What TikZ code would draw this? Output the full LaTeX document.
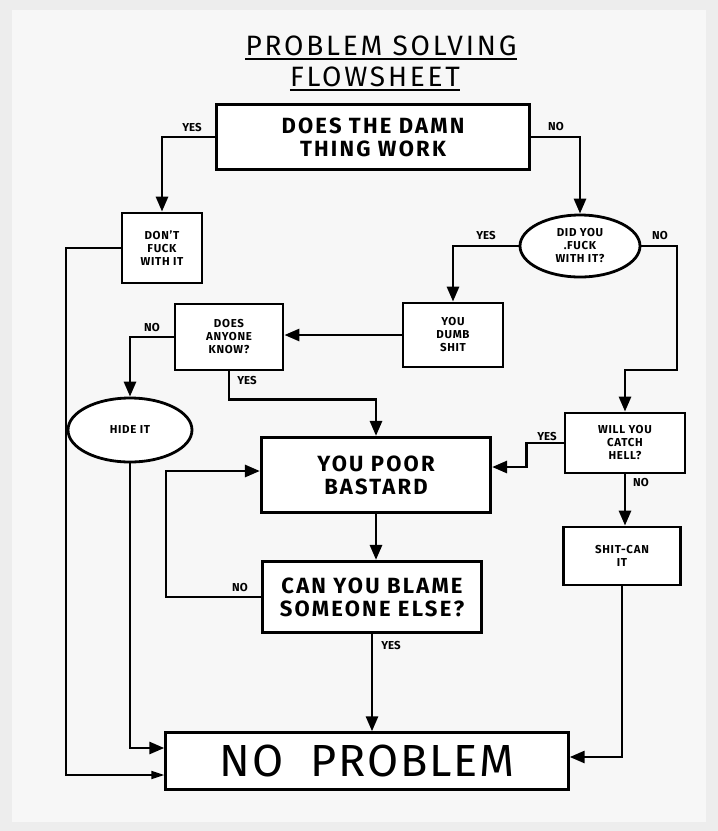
\documentclass[tikz,border=0pt]{standalone}
\usepackage{fontspec}
\setmainfont{Fira Sans}
\usetikzlibrary{arrows.meta,shapes.geometric}
\newcommand{\bigtxt}{\bfseries\fontsize{22}{23}\selectfont\addfontfeatures{LetterSpace=10}}
\newcommand{\smalltxt}{\bfseries\fontsize{11.5}{13}\selectfont\addfontfeatures{LetterSpace=6}}
\begin{document}
\begin{tikzpicture}[x=1pt,y=-1pt,
  box/.style={draw=black,line width=3.2pt,fill=white,inner sep=0pt,align=center,font=\bigtxt},
  sbox/.style={draw=black,line width=2.8pt,fill=white,inner sep=0pt,align=center,font=\smalltxt},
  oval/.style={ellipse,draw=black,line width=2.8pt,fill=white,inner sep=0pt,align=center,font=\smalltxt},
  lab/.style={font=\bfseries\fontsize{11.5}{12}\selectfont,inner sep=0pt},
  conn/.style={line width=2.8pt,-{Triangle[length=15pt,width=12pt]}},
  thin/.style={line width=2pt,-{Triangle[length=13pt,width=8pt]}},
  line join=miter]
\useasboundingbox (0,0) rectangle (718,831);
\fill[black!7] (0,0) rectangle (718,831);
\fill[white!97!black] (12,10) rectangle (706,822);
% title
\node[font=\fontsize{28}{30}\selectfont\addfontfeatures{LetterSpace=10},inner sep=0pt] (t1) at (381,46) {PROBLEM SOLVING};
\node[font=\fontsize{28}{30}\selectfont\addfontfeatures{LetterSpace=10},inner sep=0pt] (t2) at (375,77) {FLOWSHEET};
\draw[line width=2.2pt] ([yshift=-3pt]t1.south west) -- ([yshift=-3pt]t1.south east);
\draw[line width=2.2pt] ([yshift=-3pt]t2.south west) -- ([yshift=-3pt]t2.south east);
% nodes
\node[box,minimum width=313pt,minimum height=65pt] (q) at (373,137) {DOES THE DAMN\\THING WORK};
\node[sbox,minimum width=80pt,minimum height=70pt] (dont) at (162,248) {DON'T\\FUCK\\WITH IT};
\node[oval,minimum width=120pt,minimum height=62pt] (did) at (580,246) {DID YOU\\.FUCK\\WITH IT?};
\node[sbox,minimum width=100pt,minimum height=64pt] (dumb) at (453,335) {YOU\\DUMB\\SHIT};
\node[sbox,minimum width=108pt,minimum height=66pt] (know) at (229,337) {DOES\\ANYONE\\KNOW?};
\node[oval,minimum width=124pt,minimum height=64pt] (hide) at (130,430) {HIDE IT};
\node[box,minimum width=229pt,minimum height=75pt] (poor) at (376,475) {YOU POOR\\BASTARD};
\node[sbox,minimum width=120pt,minimum height=60pt] (catch) at (625,443) {WILL YOU\\CATCH\\HELL?};
\node[sbox,minimum width=117pt,minimum height=58pt] (shit) at (622,556) {SHIT-CAN\\IT};
\node[box,minimum width=219pt,minimum height=71pt] (blame) at (372,597) {CAN YOU BLAME\\SOMEONE ELSE?};
\node[draw=black,line width=2.4pt,fill=white,minimum width=403pt,minimum height=57pt,inner sep=0pt,font=\fontsize{45}{48}\selectfont\addfontfeatures{LetterSpace=4}] (np) at (367,761) {NO\ \ PROBLEM};
\coordinate (cdn) at (677,370);
% connectors
\draw[conn] (q.west) -| (dont.north);
\draw[conn] (q.east) -| (did.north);
\draw[thin] (dont.west) -- ++(-55,0) |- ([yshift=-14pt]np.west);
\draw[conn] (did.west) -| (dumb.north);
\draw[conn] (did.east) -| (cdn) -| (catch.north);
\draw[conn] (dumb.west) -- (dumb.west -| know.east);
\draw[conn] (know.west) -| (hide.north);
\draw[conn] (know.south) -- ++(0,28) -| (poor.north);
\draw[conn] (hide.south) |- ([yshift=13pt]np.west);
\draw[conn] (catch.west) -- ++(-37,0) |- ([yshift=8pt]poor.east);
\draw[conn] (catch.south) -- (catch.south |- shit.north);
\draw[conn] (shit.south) |- ([yshift=4pt]np.east);
\draw[conn] (poor.south) -- (poor.south |- blame.north);
\draw[conn] (blame.west) -- ++(-95,0) |- ([yshift=4pt]poor.west);
\draw[conn] (blame.south) -- (blame.south |- np.north);
% labels
\node[lab] (l1) at (192,128) {YES};
\node[lab] (l2) at (556,127) {NO};
\node[lab] (l3) at (486,236) {YES};
\node[lab] (l4) at (660,236) {NO};
\node[lab] (l5) at (152,328) {NO};
\node[lab] (l6) at (247,381) {YES};
\node[lab] (l7) at (547,437) {YES};
\node[lab] (l8) at (641,483) {NO};
\node[lab] (l9) at (240,588) {NO};
\node[lab] (l10) at (391,646) {YES};
\end{tikzpicture}
\end{document}
